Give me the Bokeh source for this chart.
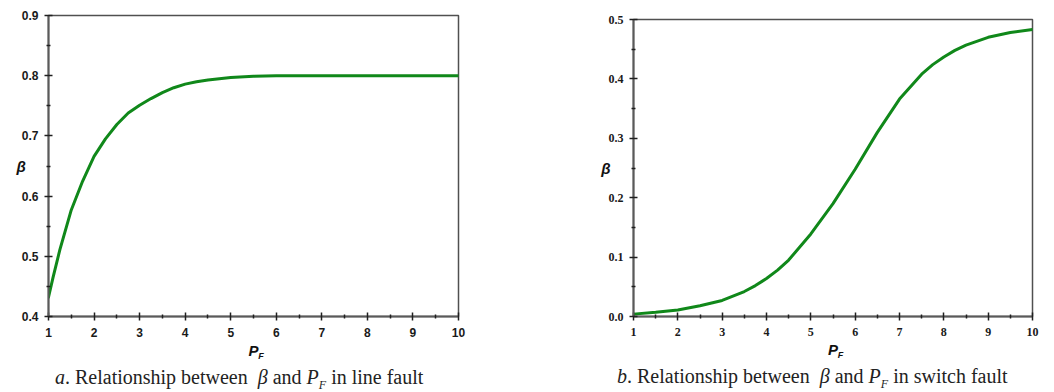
from bokeh.plotting import figure
from bokeh.models import Range1d, FixedTicker, NumeralTickFormatter, Div, LinearAxis
from bokeh.layouts import row, column
from bokeh.embed import file_html
from bokeh.resources import INLINE

# ---- data ----
pf_a = [1, 1.1, 1.25, 1.5, 1.75, 2, 2.25, 2.5, 2.75, 3, 3.25, 3.5, 3.75, 4, 4.25, 4.5,
        5, 5.5, 6, 7, 8, 9, 10]
beta_a = [0.432, 0.465, 0.511, 0.577, 0.625, 0.666, 0.695, 0.719, 0.738, 0.751, 0.762,
          0.772, 0.780, 0.786, 0.790, 0.793, 0.797, 0.799, 0.800, 0.800, 0.800, 0.800, 0.800]

pf_b = [1, 1.5, 2, 2.5, 3, 3.5, 3.75, 4, 4.25, 4.5, 5, 5.5, 6, 6.5, 7, 7.5, 7.75, 8,
        8.25, 8.5, 9, 9.5, 10]
beta_b = [0.004, 0.007, 0.011, 0.018, 0.027, 0.042, 0.052, 0.064, 0.078, 0.095, 0.139,
          0.190, 0.248, 0.310, 0.366, 0.408, 0.424, 0.437, 0.448, 0.457, 0.470, 0.478, 0.483]

x_ticks = [1, 2, 3, 4, 5, 6, 7, 8, 9, 10]
x_minor = [1.5, 2.5, 3.5, 4.5, 5.5, 6.5, 7.5, 8.5, 9.5]
ya_ticks = [0.4, 0.5, 0.6, 0.7, 0.8, 0.9]
ya_minor = [0.45, 0.55, 0.65, 0.75, 0.85]
yb_ticks = [0.0, 0.1, 0.2, 0.3, 0.4, 0.5]
yb_minor = [0.05, 0.15, 0.25, 0.35, 0.45]

y_title = "β"
x_title = "P"
x_title_sub = "F"
caption_a = "<i>a</i>. Relationship between&nbsp; <i>&beta;</i> and <i>P<sub style='font-size:12px'>F</sub></i> in line fault"
caption_b = "<i>b</i>. Relationship between&nbsp; <i>&beta;</i> and <i>P<sub style='font-size:12px'>F</sub></i> in switch fault"

GREEN = "#10881a"
NBSP = "\u00a0"


def make_panel(xs, ys, yr, yt, ym, tick_font, mbl, mbr, mbt, fw, fh, beta_standoff):
    p = figure(output_backend="svg", toolbar_location=None,
               frame_width=fw, frame_height=fh,
               x_range=Range1d(1, 10), y_range=Range1d(*yr),
               min_border_left=mbl, min_border_right=mbr,
               min_border_top=mbt, min_border_bottom=46)
    p.grid.visible = False
    p.background_fill_color = "white"
    p.border_fill_color = "white"
    p.outline_line_color = "#505050"
    p.outline_line_width = 1.5
    p.xaxis.ticker = FixedTicker(ticks=x_ticks, minor_ticks=x_minor)
    p.yaxis.ticker = FixedTicker(ticks=yt, minor_ticks=ym)
    p.yaxis.formatter = NumeralTickFormatter(format="0.0")
    for ax in (p.xaxis, p.yaxis):
        ax.axis_line_color = "#5a5a5a"
        ax.axis_line_width = 2
        ax.major_tick_line_color = "#202020"
        ax.major_tick_line_width = 1.5
        ax.minor_tick_line_color = "#202020"
        ax.minor_tick_line_width = 1.5
        ax.major_tick_in = 4
        ax.major_tick_out = 4
        ax.minor_tick_in = 2
        ax.minor_tick_out = 2
        ax.major_label_text_font = tick_font
        ax.major_label_text_font_style = "bold"
        ax.major_label_text_font_size = "12px"
        ax.major_label_text_color = "#1a1a1a"
        ax.axis_label_text_font = "Liberation Sans"
        ax.axis_label_text_font_style = "bold italic"
        ax.axis_label_text_font_size = "15px"
        ax.axis_label_text_color = "#111111"
    p.xaxis.major_label_standoff = 7
    p.yaxis.major_label_standoff = 6
    p.yaxis.axis_label = y_title
    p.yaxis.axis_label_orientation = "horizontal"
    p.yaxis.axis_label_standoff = beta_standoff
    p.xaxis.axis_label = x_title
    p.xaxis.axis_label_standoff = 2

    # subscript "F" of P_F as a label-only axis below
    sub = LinearAxis(ticker=FixedTicker(ticks=[]), axis_line_color=None,
                     major_tick_line_color=None, minor_tick_line_color=None,
                     major_label_text_font_size="0px",
                     axis_label=NBSP * 6 + x_title_sub, axis_label_standoff=-11,
                     axis_label_text_font="Liberation Sans",
                     axis_label_text_font_style="bold italic",
                     axis_label_text_font_size="9px", axis_label_text_color="#111111")
    p.add_layout(sub, "below")

    p.line(xs, ys, line_color=GREEN, line_width=3, line_join="round", line_cap="round")
    return p


pa = make_panel(pf_a, beta_a, (0.4, 0.9), ya_ticks, ya_minor, "Liberation Sans",
                48, 105, 15, 410, 301, -7)
pb = make_panel(pf_b, beta_b, (0.0, 0.5), yb_ticks, yb_minor, "Liberation Serif",
                70, 14, 19, 399, 297, -5)

style = "font-family:'Liberation Serif';font-size:20px;color:#222;white-space:nowrap;padding-left:%dpx;"
div_a = Div(text="<div style=\"" + style % 55 + "\">" + caption_a + "</div>",
            width=563, height=28, margin=(0, 0, 0, 0))
div_b = Div(text="<div style=\"" + style % 54 + "\">" + caption_b + "</div>",
            width=483, height=28, margin=(0, 0, 0, 0))

layout = row(column(pa, div_a, spacing=0), column(pb, div_b, spacing=0), spacing=0)

open("out.html", "w").write(file_html(layout, INLINE))
